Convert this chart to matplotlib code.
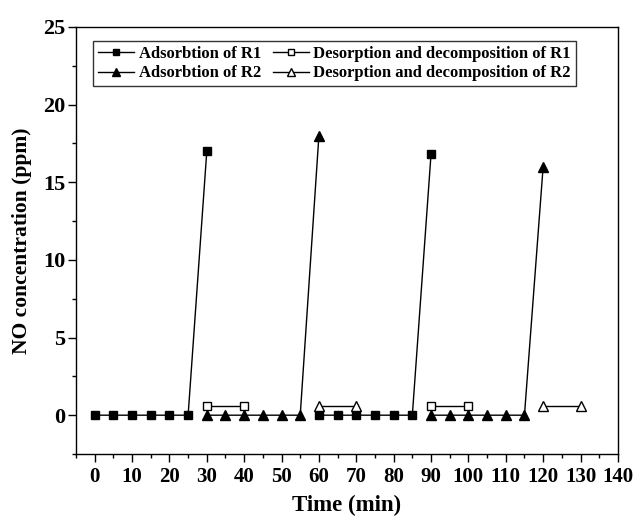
import numpy as np
import matplotlib.pyplot as plt
from matplotlib.ticker import MultipleLocator

plt.rcParams['font.family'] = ['Liberation Serif', 'DejaVu Serif']
plt.rcParams['font.weight'] = 'bold'

# Adsorption runs (zero outlet NO, then breakthrough point), gaps split cycles
ads_r1_t = [0, 5, 10, 15, 20, 25, 30, np.nan, 60, 65, 70, 75, 80, 85, 90]
ads_r1_c = [0, 0, 0, 0, 0, 0, 17.0, np.nan, 0, 0, 0, 0, 0, 0, 16.8]
ads_r2_t = [30, 35, 40, 45, 50, 55, 60, np.nan, 90, 95, 100, 105, 110, 115, 120]
ads_r2_c = [0, 0, 0, 0, 0, 0, 18.0, np.nan, 0, 0, 0, 0, 0, 0, 16.0]

# Desorption / decomposition runs
des_r1_t = [30, 40, np.nan, 90, 100]
des_r1_c = [0.6, 0.6, np.nan, 0.6, 0.6]
des_r2_t = [60, 70, np.nan, 120, 130]
des_r2_c = [0.6, 0.6, np.nan, 0.6, 0.6]

fig = plt.figure(figsize=(6.36, 5.27), dpi=100)
ax = fig.add_axes([0.1195, 0.1385, 0.852, 0.8103])

ax.plot(ads_r1_t, ads_r1_c, 'k-', marker='s', ms=6, lw=1,
        label='Adsorbtion of R1')
ax.plot(ads_r2_t, ads_r2_c, 'k-', marker='^', ms=7.5, lw=1,
        label='Adsorbtion of R2')
ax.plot(des_r1_t, des_r1_c, 'k-', marker='s', ms=6, lw=1, mfc='white',
        label='Desorption and decomposition of R1')
ax.plot(des_r2_t, des_r2_c, 'k-', marker='^', ms=7.5, lw=1, mfc='white',
        label='Desorption and decomposition of R2')

ax.set_xlim(-5, 140)
ax.set_ylim(-2.5, 25)
ax.xaxis.set_major_locator(MultipleLocator(10))
ax.xaxis.set_minor_locator(MultipleLocator(5))
ax.yaxis.set_major_locator(MultipleLocator(5))
ax.yaxis.set_minor_locator(MultipleLocator(2.5))
ax.tick_params(which='both', direction='out', width=1)
ax.tick_params(which='major', length=5.5)
ax.tick_params(which='minor', length=3)
ax.tick_params(axis='x', labelsize=15)
ax.tick_params(axis='y', labelsize=16, pad=2)
for s in ax.spines.values():
    s.set_linewidth(1)

ax.set_xlabel('Time (min)', fontsize=16.5, fontweight='bold', labelpad=6)
ax.set_ylabel('NO concentration (ppm)', fontsize=15.5, fontweight='bold', labelpad=8)

ax.legend(loc='upper left', ncol=2, fontsize=12, frameon=True, fancybox=False,
          edgecolor='black', handlelength=2.2, handletextpad=0.25,
          columnspacing=0.7, borderpad=0.3, labelspacing=0.2,
          borderaxespad=0, markerscale=0.8,
          bbox_to_anchor=(0.031, 0.967))

plt.savefig('out.png', dpi=100)
